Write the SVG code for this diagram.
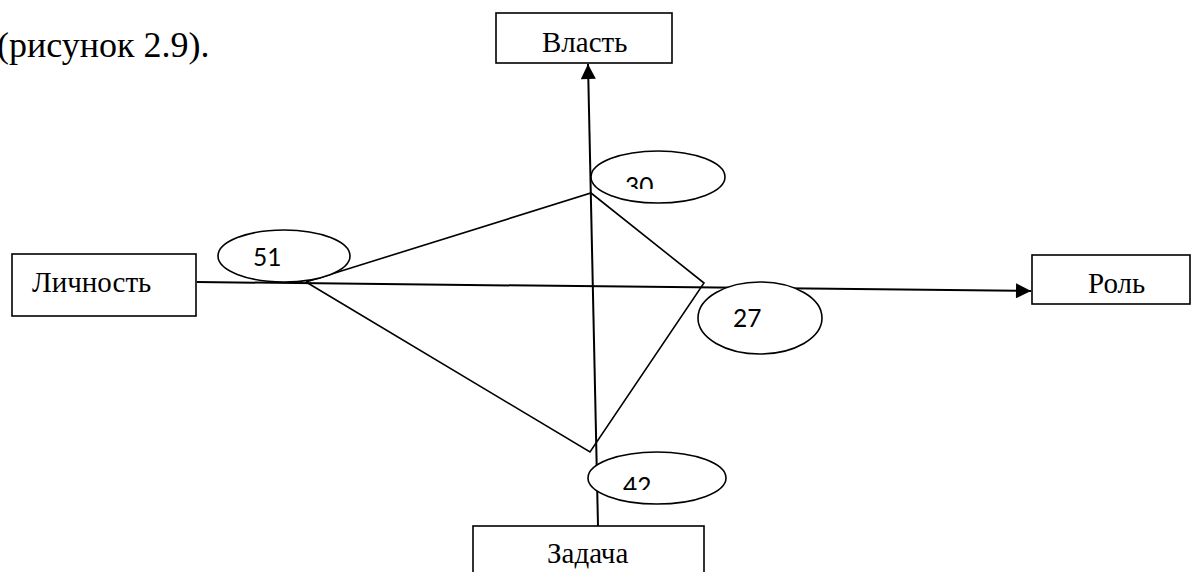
<svg xmlns="http://www.w3.org/2000/svg" width="1192" height="572" viewBox="0 0 1192 572">
<style>
.box{fill:#fff;stroke:#000;stroke-width:1.6}
.ell{fill:#fff;stroke:#000;stroke-width:1.6}
.tt{font-family:"Liberation Serif","Times New Roman",serif;font-size:29px;fill:#000}
.num{font-family:Lato,"Liberation Sans",sans-serif;font-size:24.5px;fill:#000}
.ax{stroke:#000;stroke-width:2;fill:none}
.ln{stroke:#000;stroke-width:1.6;fill:none}
</style>
<defs>
<marker id="arr" viewBox="0 0 10 10" refX="10" refY="5" markerWidth="8" markerHeight="7.5" markerUnits="strokeWidth" orient="auto">
<path d="M0,0 L10,5 L0,10 z" fill="#000"/>
</marker>
<clipPath id="c30"><rect x="600" y="150" width="120" height="39"/></clipPath>
<clipPath id="c42"><rect x="600" y="450" width="120" height="40"/></clipPath>
</defs>
<rect width="1192" height="572" fill="#fff"/>
<text x="-3" y="57" font-family="Liberation Serif, serif" font-size="36px">(рисунок 2.9).</text>
<g id="connectors">
<line class="ax" x1="197" y1="282" x2="1031" y2="291" marker-end="url(#arr)"/>
<line class="ax" x1="598" y1="526" x2="588" y2="64" marker-end="url(#arr)"/>
<polyline class="ln" points="306,282 591,193 704,283 590,452 306,282"/>
</g>
<g id="n51"><ellipse class="ell" cx="284" cy="256" rx="66" ry="26"/><text class="num" x="253" y="266">51</text></g>
<g id="n30"><ellipse class="ell" cx="658" cy="177" rx="67" ry="26"/><text class="num" x="625" y="195" clip-path="url(#c30)">30</text></g>
<g id="n27"><ellipse class="ell" cx="760" cy="318" rx="62" ry="36"/><text class="num" x="733" y="327">27</text></g>
<g id="n42"><ellipse class="ell" cx="657" cy="478" rx="69" ry="26"/><text class="num" x="623" y="495" clip-path="url(#c42)">42</text></g>
<g id="vlast"><rect class="box" x="496" y="13" width="176" height="50"/><text class="tt" x="542" y="52">Власть</text></g>
<g id="lichnost"><rect class="box" x="12" y="254" width="184" height="62"/><text class="tt" x="32" y="292">Личность</text></g>
<g id="rol"><rect class="box" x="1032" y="255" width="158" height="49"/><text class="tt" x="1088" y="293">Роль</text></g>
<g id="zadacha"><rect class="box" x="473" y="526" width="231" height="60"/><text class="tt" x="547" y="563">Задача</text></g>
</svg>
